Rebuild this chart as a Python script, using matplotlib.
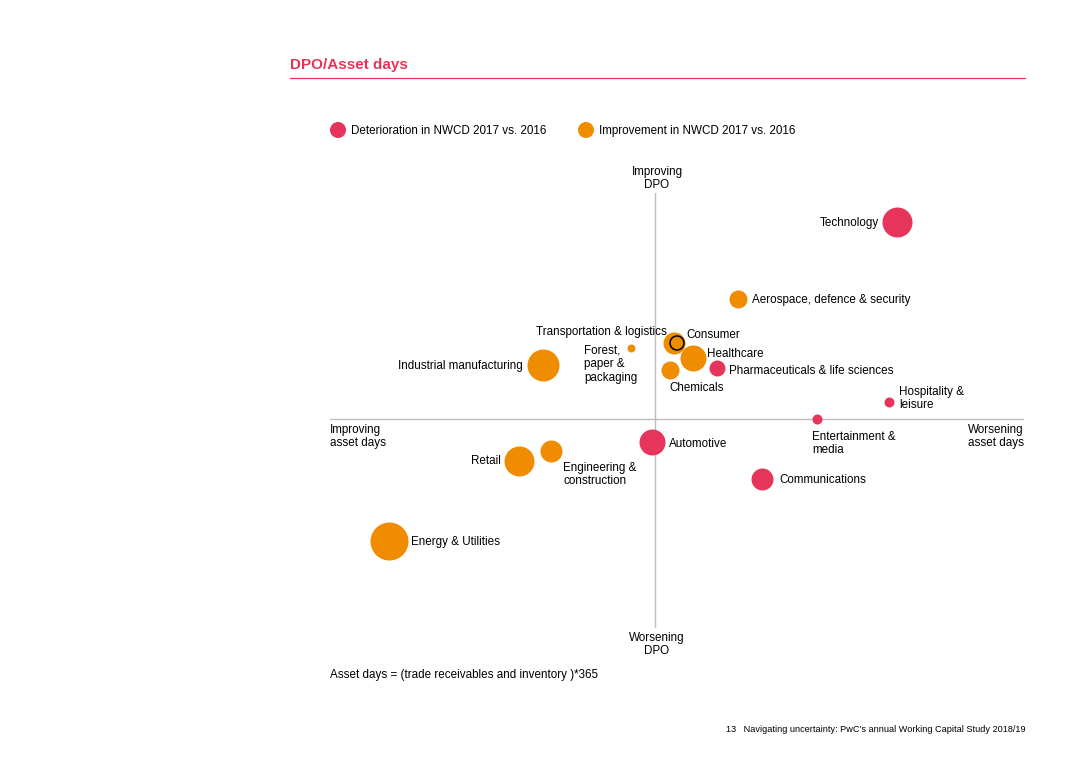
import numpy as np
import matplotlib.pyplot as plt

plt.rcParams['font.family'] = ['Liberation Sans', 'DejaVu Sans']

# Sector positions (arbitrary units, centre = no change), bubble radius, status
sectors = ["Technology", "Aerospace, defence & security", "Consumer",
           "Transportation & logistics", "Healthcare",
           "Pharmaceuticals & life sciences", "Chemicals",
           "Forest,\npaper &\npackaging", "Industrial manufacturing",
           "Hospitality &\nleisure", "Entertainment &\nmedia", "Automotive",
           "Engineering &\nconstruction", "Retail", "Communications",
           "Energy & Utilities"]
asset_days = [24.2, 8.3, 1.9, 2.2, 3.8, 6.2, 1.5, -2.4, -11.2, 23.4, 16.2,
              -0.3, -10.4, -13.6, 10.7, -26.6]
dpo = [19.7, 12.0, 7.6, 7.6, 6.1, 5.1, 4.9, 7.1, 5.4, 1.7, 0.0, -2.3, -3.2,
       -4.2, -6.0, -12.2]
size = [15, 9, 11, 7, 13, 8, 9, 4, 16, 5, 5, 13, 11, 15, 11, 19]
improved = [False, True, True, True, True, False, True, True, True, False,
            False, False, True, True, False, True]

# label offsets in pixels (dx, dy) and alignment
label_pos = {
    "Technology": (-18, -1, "right"),
    "Aerospace, defence & security": (14, -1, "left"),
    "Consumer": (12, 8, "left"),
    "Transportation & logistics": (-10, 11, "right"),
    "Healthcare": (14, 4, "left"),
    "Pharmaceuticals & life sciences": (12, -3, "left"),
    "Chemicals": (-1, -18, "left"),
    "Forest,\npaper &\npackaging": (-47, -16, "left"),
    "Industrial manufacturing": (-20, -1, "right"),
    "Hospitality &\nleisure": (10, 3.5, "left"),
    "Entertainment &\nmedia": (-5, -24.5, "left"),
    "Automotive": (17, -2, "left"),
    "Engineering &\nconstruction": (12, -23.5, "left"),
    "Retail": (-18, 0, "right"),
    "Communications": (17, -1, "left"),
    "Energy & Utilities": (22, -1, "left"),
}

red = "#E6345B"
orange = "#F08C00"
grey = "#BDBDBD"
fs = 8.4
ls = 1.2

W, H = 1080, 763
fig = plt.figure(figsize=(W / 100, H / 100), dpi=100)

# title and rule
fig.text(290 / W, 1 - 65 / H, "DPO/Asset days", color=red, fontsize=11,
         fontweight="bold", va="center", ha="left")
fig.add_artist(plt.Line2D([290 / W, 1025 / W], [1 - 78 / H, 1 - 78 / H],
                          color=red, lw=0.9))

# legend
lax = fig.add_axes([0, 0, 1, 1], zorder=-1)
lax.set_xlim(0, W)
lax.set_ylim(H, 0)
lax.axis("off")
lax.scatter([338, 586], [130, 130], s=(2 * 8 * 0.72) ** 2,
            c=[red, orange], linewidths=0)
lax.text(351, 131, "Deterioration in NWCD 2017 vs. 2016", fontsize=fs,
         va="center", ha="left")
lax.text(599, 131, "Improvement in NWCD 2017 vs. 2016", fontsize=fs,
         va="center", ha="left")

# main quadrant
ax = fig.add_axes([330 / W, (H - 628) / H, (1024 - 330) / W, (628 - 193) / H])
ax.set_xlim(-32.5, 36.9)
ax.set_ylim(-20.9, 22.6)
ax.axis("off")
ax.axhline(0, color=grey, lw=1, zorder=0)
ax.axvline(0, color=grey, lw=1, zorder=0)

for name, x, y, r, imp in zip(sectors, asset_days, dpo, size, improved):
    s = (2 * r * 0.72) ** 2
    if name == "Transportation & logistics":
        ax.scatter(x, y, s=s, facecolor="none", edgecolor="black", lw=1.1,
                   zorder=4)
    else:
        ax.scatter(x, y, s=s, color=orange if imp else red, linewidths=0,
                   zorder=3)
    dx, dy, ha = label_pos[name]
    ax.annotate(name, (x, y), xytext=(dx, dy), textcoords="offset pixels",
                ha=ha, va="center", fontsize=fs, linespacing=ls)

# axis captions
lax.text(657, 178.5, "Improving\nDPO", fontsize=fs, ha="center", va="center",
         linespacing=ls)
lax.text(657, 644.5, "Worsening\nDPO", fontsize=fs, ha="center", va="center",
         linespacing=ls)
lax.text(330, 436.5, "Improving\nasset days", fontsize=fs, ha="left",
         va="center", linespacing=ls)
lax.text(1024, 436.5, "Worsening\nasset days", fontsize=fs, ha="right",
         va="center", linespacing=ls)

lax.text(330, 675, "Asset days = (trade receivables and inventory )*365",
         fontsize=fs, ha="left", va="center")
lax.text(1025, 729.5,
         "13   Navigating uncertainty: PwC\u2019s annual Working Capital Study 2018/19",
         fontsize=6.6, ha="right", va="center")

fig.savefig("out.png", dpi=100)
